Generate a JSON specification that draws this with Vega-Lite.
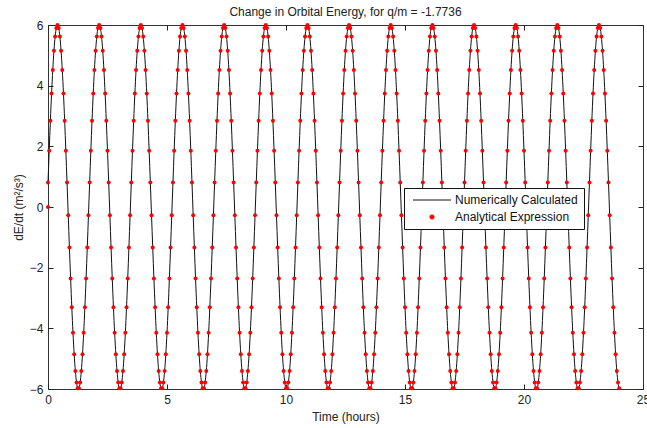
{
  "$schema": "https://vega.github.io/schema/vega-lite/v6.json",
  "width": 595,
  "height": 364,
  "autosize": {"type": "none"},
  "padding": {"left": 48, "top": 25, "right": 4, "bottom": 39},
  "background": "white",
  "config": {
    "font": "Liberation Sans",
    "view": {"stroke": "#333333", "strokeWidth": 1},
    "axis": {
      "grid": false,
      "domain": false,
      "tickColor": "#222222",
      "tickSize": -5,
      "labelFontSize": 12,
      "labelColor": "#222222",
      "labelFont": "Liberation Sans",
      "labelFlush": false,
      "labelOverlap": false,
      "titleFontSize": 12,
      "titleFontWeight": "normal",
      "titleColor": "#222222",
      "titleFont": "Liberation Sans"
    }
  },
  "title": {
    "text": "Change in Orbital Energy, for q/m = -1.7736",
    "fontSize": 12,
    "fontWeight": "normal",
    "font": "Liberation Sans",
    "color": "#222222",
    "offset": 0
  },
  "data": {
    "values": [
      {"t":0,"v":0,"p":1},
      {"t":0,"v":0.805},{"t":0.05,"v":1.854},{"t":0.1,"v":2.843},{"t":0.15,"v":3.741},{"t":0.2,"v":4.518},{"t":0.25,"v":5.151},{"t":0.3,"v":5.617},{"t":0.35,"v":5.904},
      {"t":0.4,"v":6},{"t":0.45,"v":5.904},{"t":0.5,"v":5.617},{"t":0.55,"v":5.151},{"t":0.6,"v":4.518},{"t":0.65,"v":3.741},{"t":0.7,"v":2.843},{"t":0.75,"v":1.854},{"t":0.8,"v":0.805},{"t":0.85,"v":-0.269},{"t":0.9,"v":-1.335},{"t":0.95,"v":-2.358},{"t":1,"v":-3.304},{"t":1.05,"v":-4.146},{"t":1.1,"v":-4.854},{"t":1.15,"v":-5.406},{"t":1.2,"v":-5.784},{"t":1.25,"v":-5.976},{"t":1.3,"v":-5.976},{"t":1.35,"v":-5.784},{"t":1.4,"v":-5.406},{"t":1.45,"v":-4.854},{"t":1.5,"v":-4.146},{"t":1.55,"v":-3.304},{"t":1.6,"v":-2.358},{"t":1.65,"v":-1.335},{"t":1.7,"v":-0.269},{"t":1.75,"v":0.805},{"t":1.8,"v":1.854},{"t":1.85,"v":2.843},{"t":1.9,"v":3.741},{"t":1.95,"v":4.518},{"t":2,"v":5.151},{"t":2.05,"v":5.617},{"t":2.1,"v":5.904},
      {"t":2.15,"v":6},{"t":2.2,"v":5.904},{"t":2.25,"v":5.617},{"t":2.3,"v":5.151},{"t":2.35,"v":4.518},{"t":2.4,"v":3.741},{"t":2.45,"v":2.843},{"t":2.5,"v":1.854},{"t":2.55,"v":0.805},{"t":2.6,"v":-0.269},{"t":2.65,"v":-1.335},{"t":2.7,"v":-2.358},{"t":2.75,"v":-3.304},{"t":2.8,"v":-4.146},{"t":2.85,"v":-4.854},{"t":2.9,"v":-5.406},{"t":2.95,"v":-5.784},{"t":3,"v":-5.976},{"t":3.05,"v":-5.976},{"t":3.1,"v":-5.784},{"t":3.15,"v":-5.406},{"t":3.2,"v":-4.854},{"t":3.25,"v":-4.146},{"t":3.3,"v":-3.304},{"t":3.35,"v":-2.358},{"t":3.4,"v":-1.335},{"t":3.45,"v":-0.269},{"t":3.5,"v":0.805},{"t":3.55,"v":1.854},{"t":3.6,"v":2.843},{"t":3.65,"v":3.741},{"t":3.7,"v":4.518},{"t":3.75,"v":5.151},{"t":3.8,"v":5.617},{"t":3.85,"v":5.904},
      {"t":3.9,"v":6},{"t":3.95,"v":5.904},{"t":4,"v":5.617},{"t":4.05,"v":5.151},{"t":4.1,"v":4.518},{"t":4.15,"v":3.741},{"t":4.2,"v":2.843},{"t":4.25,"v":1.854},{"t":4.3,"v":0.805},{"t":4.35,"v":-0.269},{"t":4.4,"v":-1.335},{"t":4.45,"v":-2.358},{"t":4.5,"v":-3.304},{"t":4.55,"v":-4.146},{"t":4.6,"v":-4.854},{"t":4.65,"v":-5.406},{"t":4.7,"v":-5.784},{"t":4.75,"v":-5.976},{"t":4.8,"v":-5.976},{"t":4.85,"v":-5.784},{"t":4.9,"v":-5.406},{"t":4.95,"v":-4.854},{"t":5,"v":-4.146},{"t":5.05,"v":-3.304},{"t":5.1,"v":-2.358},{"t":5.15,"v":-1.335},{"t":5.2,"v":-0.269},{"t":5.25,"v":0.805},{"t":5.3,"v":1.854},{"t":5.35,"v":2.843},{"t":5.4,"v":3.741},{"t":5.45,"v":4.518},{"t":5.5,"v":5.151},{"t":5.55,"v":5.617},{"t":5.6,"v":5.904},
      {"t":5.65,"v":6},{"t":5.7,"v":5.904},{"t":5.75,"v":5.617},{"t":5.8,"v":5.151},{"t":5.85,"v":4.518},{"t":5.9,"v":3.741},{"t":5.95,"v":2.843},{"t":6,"v":1.854},{"t":6.05,"v":0.805},{"t":6.1,"v":-0.269},{"t":6.15,"v":-1.335},{"t":6.2,"v":-2.358},{"t":6.25,"v":-3.304},{"t":6.3,"v":-4.146},{"t":6.35,"v":-4.854},{"t":6.4,"v":-5.406},{"t":6.45,"v":-5.784},{"t":6.5,"v":-5.976},{"t":6.55,"v":-5.976},{"t":6.6,"v":-5.784},{"t":6.65,"v":-5.406},{"t":6.7,"v":-4.854},{"t":6.75,"v":-4.146},{"t":6.8,"v":-3.304},{"t":6.85,"v":-2.358},{"t":6.9,"v":-1.335},{"t":6.95,"v":-0.269},{"t":7,"v":0.805},{"t":7.05,"v":1.854},{"t":7.1,"v":2.843},{"t":7.15,"v":3.741},{"t":7.2,"v":4.518},{"t":7.25,"v":5.151},{"t":7.3,"v":5.617},{"t":7.35,"v":5.904},
      {"t":7.4,"v":6},{"t":7.45,"v":5.904},{"t":7.5,"v":5.617},{"t":7.55,"v":5.151},{"t":7.6,"v":4.518},{"t":7.65,"v":3.741},{"t":7.7,"v":2.843},{"t":7.75,"v":1.854},{"t":7.8,"v":0.805},{"t":7.85,"v":-0.269},{"t":7.9,"v":-1.335},{"t":7.95,"v":-2.358},{"t":8,"v":-3.304},{"t":8.05,"v":-4.146},{"t":8.1,"v":-4.854},{"t":8.15,"v":-5.406},{"t":8.2,"v":-5.784},{"t":8.25,"v":-5.976},{"t":8.3,"v":-5.976},{"t":8.35,"v":-5.784},{"t":8.4,"v":-5.406},{"t":8.45,"v":-4.854},{"t":8.5,"v":-4.146},{"t":8.55,"v":-3.304},{"t":8.6,"v":-2.358},{"t":8.65,"v":-1.335},{"t":8.7,"v":-0.269},{"t":8.75,"v":0.805},{"t":8.8,"v":1.854},{"t":8.85,"v":2.843},{"t":8.9,"v":3.741},{"t":8.95,"v":4.518},{"t":9,"v":5.151},{"t":9.05,"v":5.617},{"t":9.1,"v":5.904},
      {"t":9.15,"v":6},{"t":9.2,"v":5.904},{"t":9.25,"v":5.617},{"t":9.3,"v":5.151},{"t":9.35,"v":4.518},{"t":9.4,"v":3.741},{"t":9.45,"v":2.843},{"t":9.5,"v":1.854},{"t":9.55,"v":0.805},{"t":9.6,"v":-0.269},{"t":9.65,"v":-1.335},{"t":9.7,"v":-2.358},{"t":9.75,"v":-3.304},{"t":9.8,"v":-4.146},{"t":9.85,"v":-4.854},{"t":9.9,"v":-5.406},{"t":9.95,"v":-5.784},{"t":10,"v":-5.976},{"t":10.05,"v":-5.976},{"t":10.1,"v":-5.784},{"t":10.15,"v":-5.406},{"t":10.2,"v":-4.854},{"t":10.25,"v":-4.146},{"t":10.3,"v":-3.304},{"t":10.35,"v":-2.358},{"t":10.4,"v":-1.335},{"t":10.45,"v":-0.269},{"t":10.5,"v":0.805},{"t":10.55,"v":1.854},{"t":10.6,"v":2.843},{"t":10.65,"v":3.741},{"t":10.7,"v":4.518},{"t":10.75,"v":5.151},{"t":10.8,"v":5.617},{"t":10.85,"v":5.904},
      {"t":10.9,"v":6},{"t":10.95,"v":5.904},{"t":11,"v":5.617},{"t":11.05,"v":5.151},{"t":11.1,"v":4.518},{"t":11.15,"v":3.741},{"t":11.2,"v":2.843},{"t":11.25,"v":1.854},{"t":11.3,"v":0.805},{"t":11.35,"v":-0.269},{"t":11.4,"v":-1.335},{"t":11.45,"v":-2.358},{"t":11.5,"v":-3.304},{"t":11.55,"v":-4.146},{"t":11.6,"v":-4.854},{"t":11.65,"v":-5.406},{"t":11.7,"v":-5.784},{"t":11.75,"v":-5.976},{"t":11.8,"v":-5.976},{"t":11.85,"v":-5.784},{"t":11.9,"v":-5.406},{"t":11.95,"v":-4.854},{"t":12,"v":-4.146},{"t":12.05,"v":-3.304},{"t":12.1,"v":-2.358},{"t":12.15,"v":-1.335},{"t":12.2,"v":-0.269},{"t":12.25,"v":0.805},{"t":12.3,"v":1.854},{"t":12.35,"v":2.843},{"t":12.4,"v":3.741},{"t":12.45,"v":4.518},{"t":12.5,"v":5.151},{"t":12.55,"v":5.617},{"t":12.6,"v":5.904},
      {"t":12.65,"v":6},{"t":12.7,"v":5.904},{"t":12.75,"v":5.617},{"t":12.8,"v":5.151},{"t":12.85,"v":4.518},{"t":12.9,"v":3.741},{"t":12.95,"v":2.843},{"t":13,"v":1.854},{"t":13.05,"v":0.805},{"t":13.1,"v":-0.269},{"t":13.15,"v":-1.335},{"t":13.2,"v":-2.358},{"t":13.25,"v":-3.304},{"t":13.3,"v":-4.146},{"t":13.35,"v":-4.854},{"t":13.4,"v":-5.406},{"t":13.45,"v":-5.784},{"t":13.5,"v":-5.976},{"t":13.55,"v":-5.976},{"t":13.6,"v":-5.784},{"t":13.65,"v":-5.406},{"t":13.7,"v":-4.854},{"t":13.75,"v":-4.146},{"t":13.8,"v":-3.304},{"t":13.85,"v":-2.358},{"t":13.9,"v":-1.335},{"t":13.95,"v":-0.269},{"t":14,"v":0.805},{"t":14.05,"v":1.854},{"t":14.1,"v":2.843},{"t":14.15,"v":3.741},{"t":14.2,"v":4.518},{"t":14.25,"v":5.151},{"t":14.3,"v":5.617},{"t":14.35,"v":5.904},
      {"t":14.4,"v":6},{"t":14.45,"v":5.904},{"t":14.5,"v":5.617},{"t":14.55,"v":5.151},{"t":14.6,"v":4.518},{"t":14.65,"v":3.741},{"t":14.7,"v":2.843},{"t":14.75,"v":1.854},{"t":14.8,"v":0.805},{"t":14.85,"v":-0.269},{"t":14.9,"v":-1.335},{"t":14.95,"v":-2.358},{"t":15,"v":-3.304},{"t":15.05,"v":-4.146},{"t":15.1,"v":-4.854},{"t":15.15,"v":-5.406},{"t":15.2,"v":-5.784},{"t":15.25,"v":-5.976},{"t":15.3,"v":-5.976},{"t":15.35,"v":-5.784},{"t":15.4,"v":-5.406},{"t":15.45,"v":-4.854},{"t":15.5,"v":-4.146},{"t":15.55,"v":-3.304},{"t":15.6,"v":-2.358},{"t":15.65,"v":-1.335},{"t":15.7,"v":-0.269},{"t":15.75,"v":0.805},{"t":15.8,"v":1.854},{"t":15.85,"v":2.843},{"t":15.9,"v":3.741},{"t":15.95,"v":4.518},{"t":16,"v":5.151},{"t":16.05,"v":5.617},{"t":16.1,"v":5.904},
      {"t":16.15,"v":6},{"t":16.2,"v":5.904},{"t":16.25,"v":5.617},{"t":16.3,"v":5.151},{"t":16.35,"v":4.518},{"t":16.4,"v":3.741},{"t":16.45,"v":2.843},{"t":16.5,"v":1.854},{"t":16.55,"v":0.805},{"t":16.6,"v":-0.269},{"t":16.65,"v":-1.335},{"t":16.7,"v":-2.358},{"t":16.75,"v":-3.304},{"t":16.8,"v":-4.146},{"t":16.85,"v":-4.854},{"t":16.9,"v":-5.406},{"t":16.95,"v":-5.784},{"t":17,"v":-5.976},{"t":17.05,"v":-5.976},{"t":17.1,"v":-5.784},{"t":17.15,"v":-5.406},{"t":17.2,"v":-4.854},{"t":17.25,"v":-4.146},{"t":17.3,"v":-3.304},{"t":17.35,"v":-2.358},{"t":17.4,"v":-1.335},{"t":17.45,"v":-0.269},{"t":17.5,"v":0.805},{"t":17.55,"v":1.854},{"t":17.6,"v":2.843},{"t":17.65,"v":3.741},{"t":17.7,"v":4.518},{"t":17.75,"v":5.151},{"t":17.8,"v":5.617},{"t":17.85,"v":5.904},
      {"t":17.9,"v":6},{"t":17.95,"v":5.904},{"t":18,"v":5.617},{"t":18.05,"v":5.151},{"t":18.1,"v":4.518},{"t":18.15,"v":3.741},{"t":18.2,"v":2.843},{"t":18.25,"v":1.854},{"t":18.3,"v":0.805},{"t":18.35,"v":-0.269},{"t":18.4,"v":-1.335},{"t":18.45,"v":-2.358},{"t":18.5,"v":-3.304},{"t":18.55,"v":-4.146},{"t":18.6,"v":-4.854},{"t":18.65,"v":-5.406},{"t":18.7,"v":-5.784},{"t":18.75,"v":-5.976},{"t":18.8,"v":-5.976},{"t":18.85,"v":-5.784},{"t":18.9,"v":-5.406},{"t":18.95,"v":-4.854},{"t":19,"v":-4.146},{"t":19.05,"v":-3.304},{"t":19.1,"v":-2.358},{"t":19.15,"v":-1.335},{"t":19.2,"v":-0.269},{"t":19.25,"v":0.805},{"t":19.3,"v":1.854},{"t":19.35,"v":2.843},{"t":19.4,"v":3.741},{"t":19.45,"v":4.518},{"t":19.5,"v":5.151},{"t":19.55,"v":5.617},{"t":19.6,"v":5.904},
      {"t":19.65,"v":6},{"t":19.7,"v":5.904},{"t":19.75,"v":5.617},{"t":19.8,"v":5.151},{"t":19.85,"v":4.518},{"t":19.9,"v":3.741},{"t":19.95,"v":2.843},{"t":20,"v":1.854},{"t":20.05,"v":0.805},{"t":20.1,"v":-0.269},{"t":20.15,"v":-1.335},{"t":20.2,"v":-2.358},{"t":20.25,"v":-3.304},{"t":20.3,"v":-4.146},{"t":20.35,"v":-4.854},{"t":20.4,"v":-5.406},{"t":20.45,"v":-5.784},{"t":20.5,"v":-5.976},{"t":20.55,"v":-5.976},{"t":20.6,"v":-5.784},{"t":20.65,"v":-5.406},{"t":20.7,"v":-4.854},{"t":20.75,"v":-4.146},{"t":20.8,"v":-3.304},{"t":20.85,"v":-2.358},{"t":20.9,"v":-1.335},{"t":20.95,"v":-0.269},{"t":21,"v":0.805},{"t":21.05,"v":1.854},{"t":21.1,"v":2.843},{"t":21.15,"v":3.741},{"t":21.2,"v":4.518},{"t":21.25,"v":5.151},{"t":21.3,"v":5.617},{"t":21.35,"v":5.904},
      {"t":21.4,"v":6},{"t":21.45,"v":5.904},{"t":21.5,"v":5.617},{"t":21.55,"v":5.151},{"t":21.6,"v":4.518},{"t":21.65,"v":3.741},{"t":21.7,"v":2.843},{"t":21.75,"v":1.854},{"t":21.8,"v":0.805},{"t":21.85,"v":-0.269},{"t":21.9,"v":-1.335},{"t":21.95,"v":-2.358},{"t":22,"v":-3.304},{"t":22.05,"v":-4.146},{"t":22.1,"v":-4.854},{"t":22.15,"v":-5.406},{"t":22.2,"v":-5.784},{"t":22.25,"v":-5.976},{"t":22.3,"v":-5.976},{"t":22.35,"v":-5.784},{"t":22.4,"v":-5.406},{"t":22.45,"v":-4.854},{"t":22.5,"v":-4.146},{"t":22.55,"v":-3.304},{"t":22.6,"v":-2.358},{"t":22.65,"v":-1.335},{"t":22.7,"v":-0.269},{"t":22.75,"v":0.805},{"t":22.8,"v":1.854},{"t":22.85,"v":2.843},{"t":22.9,"v":3.741},{"t":22.95,"v":4.518},{"t":23,"v":5.151},{"t":23.05,"v":5.617},{"t":23.1,"v":5.904},
      {"t":23.15,"v":6},{"t":23.2,"v":5.904},{"t":23.25,"v":5.617},{"t":23.3,"v":5.151},{"t":23.35,"v":4.518},{"t":23.4,"v":3.741},{"t":23.45,"v":2.843},{"t":23.5,"v":1.854},{"t":23.55,"v":0.805},{"t":23.6,"v":-0.269},{"t":23.65,"v":-1.335},{"t":23.7,"v":-2.358},{"t":23.75,"v":-3.304},{"t":23.8,"v":-4.146},{"t":23.85,"v":-4.854},{"t":23.9,"v":-5.406},{"t":23.95,"v":-5.784},{"t":24,"v":-5.976}
    ]
  },
  "layer": [
    {
      "transform": [{"filter": "datum.p !== 1"}],
      "mark": {"type": "line", "strokeWidth": 1, "interpolate": "monotone"},
      "encoding": {
        "x": {
          "field": "t", "type": "quantitative",
          "scale": {"domain": [0, 25], "nice": false, "zero": false},
          "axis": {"orient": "bottom", "values": [0, 5, 10, 15, 20, 25], "title": "Time (hours)", "labelPadding": 10, "titlePadding": 6}
        },
        "y": {
          "field": "v", "type": "quantitative",
          "scale": {"domain": [-6, 6], "nice": false, "zero": false},
          "axis": {"orient": "left", "values": [-6, -4, -2, 0, 2, 4, 6], "title": "dE/dt (m²/s³)", "labelPadding": 10, "titlePadding": 4}
        },
        "color": {
          "datum": "Numerically Calculated",
          "scale": {"domain": ["Numerically Calculated", "Analytical Expression"], "range": ["#111111", "#ff0000"]},
          "legend": {
            "orient": "none",
            "legendX": 356,
            "legendY": 163,
            "title": null,
            "direction": "vertical",
            "strokeColor": "#111111",
            "fillColor": "white",
            "padding": 6,
            "rowPadding": 5,
            "labelFontSize": 12,
            "labelFont": "Liberation Sans",
            "labelColor": "#111111",
            "symbolType": "M-9.5,0H9.5",
            "symbolSize": 16,
            "symbolStrokeWidth": 1,
            "symbolOffset": 16,
            "labelOffset": 17,
            "encode": {
              "symbols": {
                "update": {
                  "shape": {"signal": "datum.value === 'Analytical Expression' ? 'circle' : 'M-9.5,0H9.5'"},
                  "size": {"signal": "datum.value === 'Analytical Expression' ? 18 : 16"},
                  "fill": {"signal": "datum.value === 'Analytical Expression' ? '#ff0000' : 'transparent'"},
                  "stroke": {"signal": "datum.value === 'Analytical Expression' ? '#ff0000' : '#111111'"},
                  "strokeWidth": {"value": 1}
                }
              }
            }
          }
        }
      }
    },
    {
      "mark": {"type": "point", "filled": true, "size": 16, "opacity": 1},
      "encoding": {
        "x": {
          "field": "t", "type": "quantitative",
          "axis": {"orient": "top", "values": [0, 5, 10, 15, 20, 25], "labels": false, "title": null}
        },
        "y": {
          "field": "v", "type": "quantitative",
          "axis": {"orient": "right", "values": [-6, -4, -2, 0, 2, 4, 6], "labels": false, "title": null}
        },
        "color": {"datum": "Analytical Expression"}
      }
    }
  ],
  "resolve": {"axis": {"x": "independent", "y": "independent"}}
}
